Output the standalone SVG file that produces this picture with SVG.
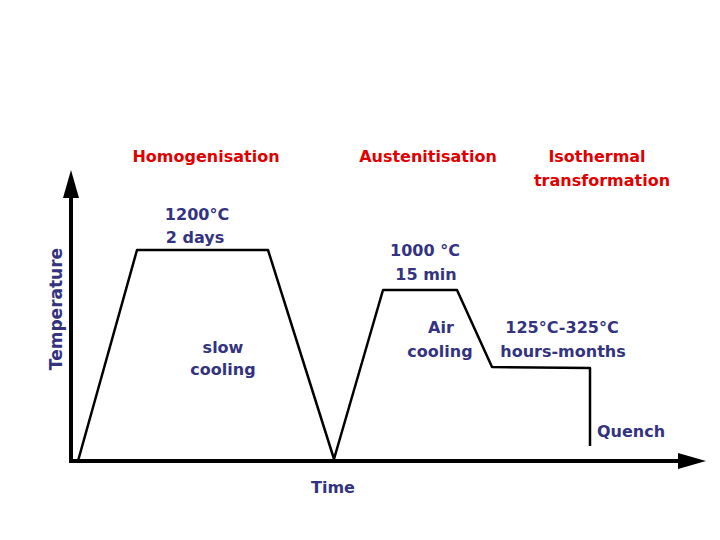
<svg xmlns="http://www.w3.org/2000/svg" width="720" height="540" viewBox="0 0 720 540">
<style>
.t{font-family:"DejaVu Sans","Liberation Sans",sans-serif;font-weight:bold;font-size:16px;text-anchor:middle}
.r{fill:#e00000}
.b{fill:#33337f}
.ax{stroke:#000;stroke-width:4;fill:none}
.cv{stroke:#000;stroke-width:2.5;fill:none;stroke-linejoin:round}
</style>
<rect width="720" height="540" fill="#fff"/>
<g id="axes">
<line class="ax" x1="71" y1="463" x2="71" y2="195"/>
<polygon points="71,170 63,198 79,198" fill="#000"/>
<line class="ax" x1="69" y1="461" x2="682" y2="461"/>
<polygon points="706,461 678,453 678,469" fill="#000"/>
</g>
<g id="connectors">
<polyline class="cv" points="78,461 137,250 268,250 334,459 383,290 457,290 492,367 590,368 590,446"/>
</g>
<g id="headings">
<text class="t r" x="206" y="162">Homogenisation</text>
<text class="t r" x="428" y="162">Austenitisation</text>
<text class="t r" x="597" y="162">Isothermal</text>
<text class="t r" x="602" y="186">transformation</text>
</g>
<g id="labels">
<text class="t b" x="197" y="220">1200°C</text>
<text class="t b" x="195" y="243">2 days</text>
<text class="t b" x="425" y="256">1000 °C</text>
<text class="t b" x="426" y="280">15 min</text>
<text class="t b" x="223" y="353">slow</text>
<text class="t b" x="223" y="375">cooling</text>
<text class="t b" x="441" y="333">Air</text>
<text class="t b" x="440" y="357">cooling</text>
<text class="t b" x="562" y="333">125°C-325°C</text>
<text class="t b" x="563" y="357">hours-months</text>
<text class="t b" x="631" y="437">Quench</text>
<text class="t b" x="333" y="493">Time</text>
<text class="t b" style="font-size:17px" transform="translate(62,309) rotate(-90)">Temperature</text>
</g>
</svg>
